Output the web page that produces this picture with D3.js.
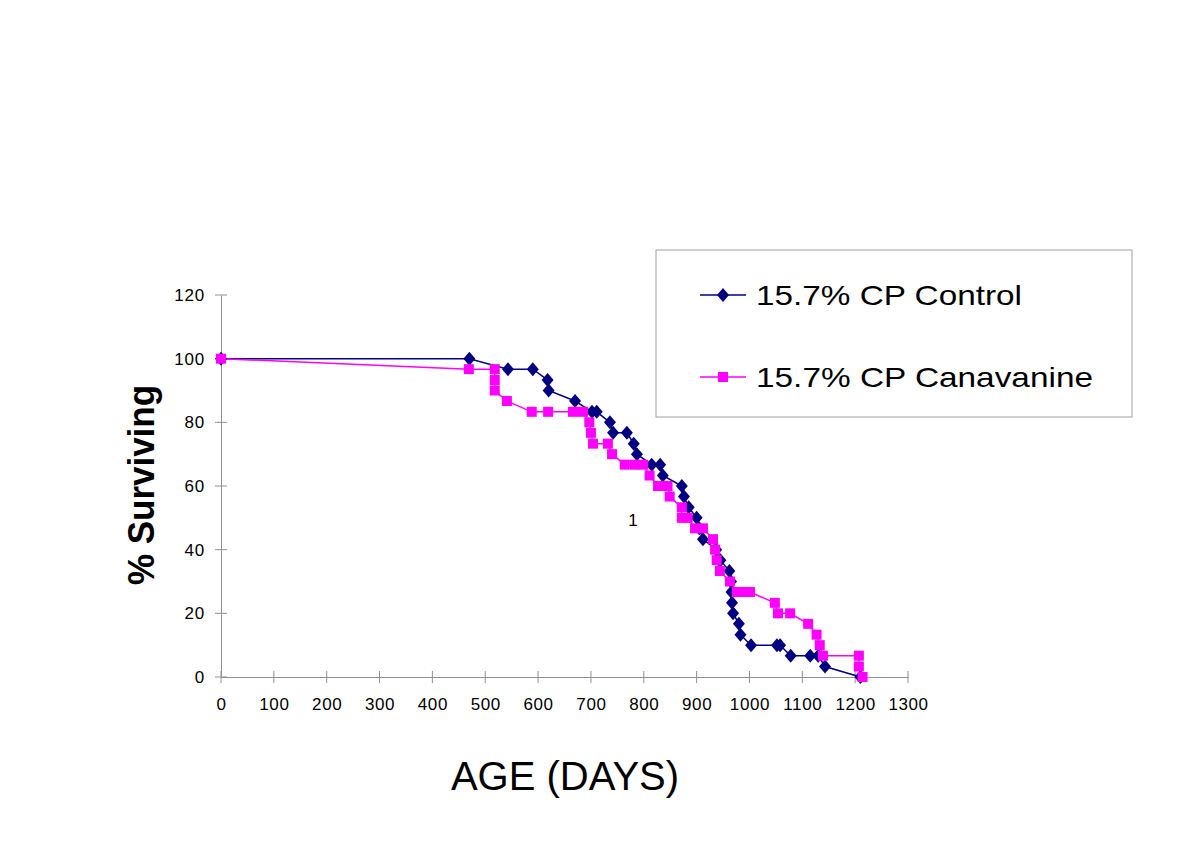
<!DOCTYPE html>
<html><head><meta charset="utf-8">
<script src="https://cdn.jsdelivr.net/npm/d3@7/dist/d3.min.js"></script>
<style>body{margin:0;background:#fff}svg{display:block}text{font-family:Arial,"Liberation Sans",sans-serif}</style>
</head><body>
<svg id="c" width="1200" height="848"></svg>
<script>
const xTicks = [0,100,200,300,400,500,600,700,800,900,1000,1100,1200,1300];
const yTicks = [0,20,40,60,80,100,120];
const controlDays = [0,470,543,590,618,620,670,702,711,736,742,768,781,787,815,831,836,872,876,885,900,905,912,937,945,962,965,966,967,969,980,983,1003,1052,1058,1078,1115,1130,1143,1210];
const controlPct  = [100,100,96.7,96.7,93.3,90,86.7,83.3,83.3,80,76.7,76.7,73.3,70,66.7,66.7,63.3,60,56.7,53.3,50,46.7,43.3,40,36.7,33.3,30,26.7,23.3,20,16.7,13.3,10,10,10,6.7,6.7,6.7,3.3,0];
const canavDays = [0,469,518,518,518,541,588,619,666,685,697,700,704,732,740,764,783,799,811,827,845,849,872,872,883,897,912,931,935,938,944,963,976,990,1001,1048,1054,1077,1111,1127,1133,1139,1207,1207,1214];
const canavPct  = [100,96.7,96.7,93.3,90,86.7,83.3,83.3,83.3,83.3,80,76.7,73.3,73.3,70,66.7,66.7,66.7,63.3,60,60,56.7,53.3,50,50,46.7,46.7,43.3,40,36.7,33.3,30,26.7,26.7,26.7,23.3,20,20,16.7,13.3,10,6.7,6.7,3.3,0];
const seriesNames = ["15.7% CP Control","15.7% CP Canavanine"];
const seriesColors = ["#000080","#FF00FF"];
const xTitle = "AGE (DAYS)";
const yTitle = "% Surviving";

const svg = d3.select("#c");
const x = d3.scaleLinear().domain([0,1300]).range([221,908]);
const y = d3.scaleLinear().domain([0,120]).range([677,295]);
const axisColor = "#909090";

// y axis
const ya = svg.append("g").attr("transform","translate(221,0)")
  .call(d3.axisLeft(y).tickValues(yTicks).tickFormat(d3.format("d")).tickSize(0).tickPadding(16));
ya.select(".domain").attr("stroke",axisColor);
ya.selectAll("text").attr("font-size",17).attr("letter-spacing",0.8).attr("fill","#000");
ya.selectAll(".tk").data(yTicks).enter().append("line")
  .attr("x1",-6).attr("x2",6).attr("y1",d=>y(d)).attr("y2",d=>y(d)).attr("stroke",axisColor);

// x axis
const xa = svg.append("g").attr("transform","translate(0,677)")
  .call(d3.axisBottom(x).tickValues(xTicks).tickFormat(d3.format("d")).tickSize(0).tickPadding(21));
xa.select(".domain").attr("stroke",axisColor);
xa.selectAll("text").attr("font-size",17).attr("letter-spacing",0.6).attr("fill","#000");
xa.selectAll(".tk").data(xTicks).enter().append("line")
  .attr("y1",-6).attr("y2",6).attr("x1",d=>x(d)).attr("x2",d=>x(d)).attr("stroke",axisColor);

// series
const sets = [
  controlDays.map((d,i)=>({d, v:controlPct[i]})),
  canavDays.map((d,i)=>({d, v:canavPct[i]}))
];
const line = d3.line().x(p=>x(p.d)).y(p=>y(p.v));

function drawMarker(g, cx, cy, i){
  if(i===0){
    g.append("path").attr("d","M0,-7L6,0L0,7L-6,0Z").attr("transform",`translate(${cx},${cy})`).attr("fill",seriesColors[0]);
  } else {
    g.append("rect").attr("x",cx-5).attr("y",cy-5).attr("width",10).attr("height",10).attr("fill",seriesColors[1]);
  }
}

sets.forEach((data,i)=>{
  svg.append("path").datum(data).attr("d",line).attr("fill","none")
    .attr("stroke",seriesColors[i]).attr("stroke-width",1.5);
});
sets.forEach((data,i)=>{
  const g = svg.append("g");
  data.forEach(p=>drawMarker(g,x(p.d),y(p.v),i));
});

// stray label
svg.append("text").attr("x",633).attr("y",526).attr("text-anchor","middle").attr("font-size",17).text("1");

// titles
svg.append("text").attr("x",565).attr("y",790).attr("text-anchor","middle").attr("font-size",40).text(xTitle);
svg.append("text").attr("transform","translate(154,485) rotate(-90)").attr("text-anchor","middle")
  .attr("font-size",36).attr("font-weight","bold").attr("textLength",200).attr("lengthAdjust","spacingAndGlyphs").text(yTitle);

// legend
const lg = svg.append("g");
lg.append("rect").attr("x",656).attr("y",250).attr("width",476).attr("height",167)
  .attr("fill","#fff").attr("stroke","#a0a0a0").attr("stroke-width",1);
const ly = [295,377];
const lw = [266,337];
seriesNames.forEach((n,i)=>{
  lg.append("line").attr("x1",700).attr("x2",746).attr("y1",ly[i]).attr("y2",ly[i])
    .attr("stroke",seriesColors[i]).attr("stroke-width",1.5);
  drawMarker(lg,723,ly[i],i);
  lg.append("text").attr("x",756).attr("y",ly[i]+10).attr("font-size",28)
    .attr("textLength",lw[i]).attr("lengthAdjust","spacingAndGlyphs").text(n);
});
</script>
</body></html>
